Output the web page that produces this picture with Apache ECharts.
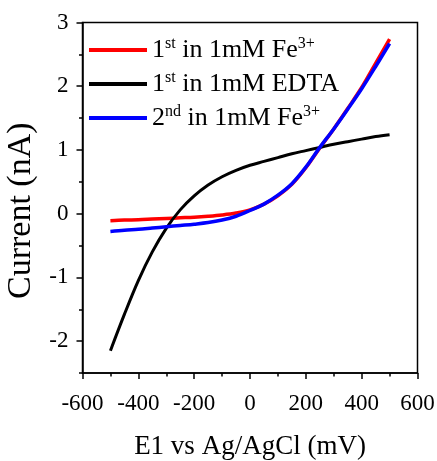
<!DOCTYPE html>
<html>
<head>
<meta charset="utf-8">
<script src="https://cdn.jsdelivr.net/npm/echarts@6/dist/echarts.min.js"></script>
<style>html,body{margin:0;padding:0;background:#fff}#c{width:437px;height:461px}</style>
</head>
<body>
<div id="c"></div>
<script>
var potentials = [-500,-450,-400,-350,-300,-250,-200,-150,-100,-50,0,50,100,150,200,250,300,350,400,450,500];
var fe1st = [-0.11,-0.10,-0.095,-0.085,-0.075,-0.065,-0.055,-0.04,-0.02,0.01,0.06,0.15,0.28,0.46,0.72,1.03,1.33,1.65,1.98,2.36,2.74];
var edta1st = [-2.15,-1.58,-1.05,-0.60,-0.23,0.06,0.28,0.45,0.58,0.68,0.76,0.82,0.88,0.94,0.99,1.04,1.09,1.13,1.17,1.21,1.24];
var fe2nd = [-0.28,-0.26,-0.245,-0.225,-0.205,-0.185,-0.165,-0.14,-0.10,-0.04,0.05,0.15,0.29,0.47,0.73,1.04,1.33,1.64,1.96,2.31,2.67];
var seriesNames = ['1st in 1mM Fe3+', '1st in 1mM EDTA', '2nd in 1mM Fe3+'];
var legendRich = ['{n|1}{s|st}{n| in 1mM Fe}{s|3+}', '{n|1}{s|st}{n| in 1mM EDTA}', '{n|2}{s|nd}{n| in 1mM Fe}{s|3+}'];
var xTicks = [-600,-400,-200,0,200,400,600];
var yTicks = [-2,-1,0,1,2,3];
var yMinorTicks = [-2.5,-1.5,-0.5,0.5,1.5,2.5];
var xTitle = 'E1 vs Ag/AgCl (mV)';
var yTitle = 'Current (nA)';

function pairs(xs, ys){ return xs.map(function(x,i){ return [x, ys[i]]; }); }
var FONT = 'Liberation Serif';
var chart = echarts.init(document.getElementById('c'));
chart.setOption({
  animation: false,
  backgroundColor: '#fff',
  grid: {left: 82.5, right: 19.5, top: 22.5, bottom: 88, containLabel: false, outerBoundsMode: 'none', show: true, borderColor: '#000', borderWidth: 1.5, backgroundColor: 'transparent'},
  legend: {
    orient: 'vertical', left: 84, top: 31, itemWidth: 58, itemHeight: 4, itemGap: 7, icon: 'rect',
    data: seriesNames,
    formatter: function(name){ return legendRich[seriesNames.indexOf(name)]; },
    textStyle: {
      fontFamily: FONT, color: '#000',
      rich: {
        n: {fontFamily: FONT, fontSize: 26, color: '#000', lineHeight: 28},
        s: {fontFamily: FONT, fontSize: 16, color: '#000', verticalAlign: 'top', lineHeight: 28, padding: [0,0,9,0]}
      }
    }
  },
  xAxis: [{
    type: 'value', min: xTicks[0], max: xTicks[xTicks.length-1], interval: 200,
    name: xTitle, nameLocation: 'middle', nameGap: 60,
    nameTextStyle: {fontFamily: FONT, fontSize: 27, color: '#000'},
    axisLine: {show: true, onZero: false, lineStyle: {color: '#000', width: 1.5}},
    axisTick: {show: true, inside: false, length: 6, lineStyle: {color: '#000', width: 1.5}},
    minorTick: {show: true, splitNumber: 2, length: 3.5, lineStyle: {color: '#000', width: 1.5}},
    splitLine: {show: false},
    axisLabel: {fontFamily: FONT, fontSize: 23, color: '#000', margin: 19}
  }],
  yAxis: [{
    type: 'value', min: -2.5, max: 3,
    name: yTitle, nameLocation: 'middle', nameGap: 33, nameRotate: 90,
    nameTextStyle: {fontFamily: FONT, fontSize: 34, color: '#000', padding: [0, 26, 0, 0]},
    axisLine: {show: true, onZero: false, lineStyle: {color: '#000', width: 1.5}},
    axisTick: {show: true, inside: false, length: 6, customValues: yTicks, lineStyle: {color: '#000', width: 1.5}},
    splitLine: {show: false},
    axisLabel: {fontFamily: FONT, fontSize: 23, color: '#000', margin: 14, customValues: yTicks}
  }, {
    type: 'value', min: -2.5, max: 3, position: 'left', offset: 0,
    axisLine: {show: false, onZero: false},
    axisTick: {show: true, inside: false, length: 3.5, customValues: yMinorTicks, lineStyle: {color: '#000', width: 1.5}},
    axisLabel: {show: false},
    splitLine: {show: false}
  }],
  series: [
    {name: seriesNames[0], type: 'line', data: pairs(potentials, fe1st), smooth: 0.35, showSymbol: false, lineStyle: {color: '#ff0000', width: 3.5}, itemStyle: {color: '#ff0000'}},
    {name: seriesNames[1], type: 'line', data: pairs(potentials, edta1st), smooth: 0.35, showSymbol: false, lineStyle: {color: '#000000', width: 3}, itemStyle: {color: '#000000'}},
    {name: seriesNames[2], type: 'line', data: pairs(potentials, fe2nd), smooth: 0.35, showSymbol: false, lineStyle: {color: '#0000ff', width: 3.5}, itemStyle: {color: '#0000ff'}}
  ]
});
</script>
</body>
</html>
